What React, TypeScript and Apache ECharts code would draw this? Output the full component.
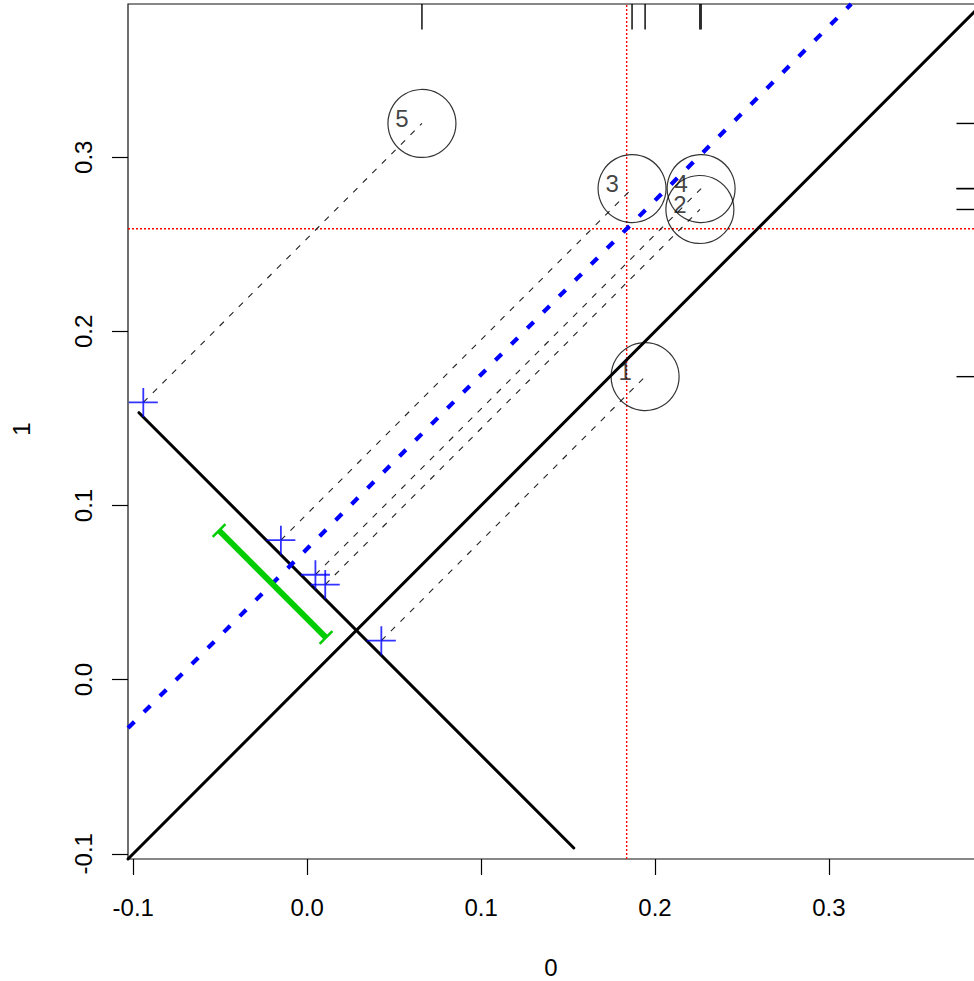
import React, { useEffect, useRef } from "react";
import * as echarts from "echarts";

// ---- axis range and ticks ----
const AXIS_MIN = -0.103;
const AXIS_MAX = 0.388;
const TICKS = [-0.1, 0.0, 0.1, 0.2, 0.3];

// ---- data (x = "0", y = "1") ----
const pointNames = ["1", "2", "3", "4", "5"];
const xValues = [0.1943, 0.2258, 0.1868, 0.2265, 0.066];
const yValues = [0.174, 0.27, 0.282, 0.282, 0.3194];

// ---- summary statistics ----
const meanX = 0.1837;
const meanY = 0.2589;
const meanDiff = 0.0752; // mean of (y - x)

// difference axis (anti-diagonal), projected crosses and CI, as x + y levels
const diffAxisSum = 0.0566;
const diffAxisRange = [-0.25, 0.25];
const crossSum = 0.065;
const ciSum = 0.035;
const ciRange = [0.0133, 0.1363];

const FONT = "'Liberation Sans', Arial, sans-serif";

const onDiagonal = (sum: number, d: number) => [(sum - d) / 2, (sum + d) / 2];

export default function App() {
  const ref = useRef<HTMLDivElement>(null);

  useEffect(() => {
    if (!ref.current) return;
    const chart = echarts.init(ref.current, null, { renderer: "svg" });

    const diffs = xValues.map((x, i) => yValues[i] - x);
    const crosses = diffs.map((d) => onDiagonal(crossSum, d));
    const points = xValues.map((x, i) => [x, yValues[i]]);

    const seg = (name: string, data: number[][], style: any, z: number) => ({
      type: "custom",
      name,
      data,
      z,
      silent: true,
      encode: { x: [0, 2], y: [1, 3] },
      renderItem: (_p: any, api: any) => {
        const p1 = api.coord([api.value(0), api.value(1)]);
        const p2 = api.coord([api.value(2), api.value(3)]);
        return {
          type: "line",
          shape: { x1: p1[0], y1: p1[1], x2: p2[0], y2: p2[1] },
          style: { fill: null, ...style },
        };
      },
    });

    const a1 = onDiagonal(diffAxisSum, diffAxisRange[0]);
    const a2 = onDiagonal(diffAxisSum, diffAxisRange[1]);
    const c1 = onDiagonal(ciSum, ciRange[0]);
    const c2 = onDiagonal(ciSum, ciRange[1]);

    const option: any = {
      animation: false,
      grid: {
        left: 128,
        top: 4,
        width: 854,
        height: 855,
        show: true,
        borderColor: "#111",
        borderWidth: 1.2,
        backgroundColor: "transparent",
        containLabel: false,
        outerBoundsMode: "none",
      },
      xAxis: {
        type: "value",
        min: AXIS_MIN,
        max: AXIS_MAX,
        axisLine: { show: false, onZero: false },
        splitLine: { show: false },
        axisTick: {
          show: true,
          customValues: TICKS,
          length: 16,
          lineStyle: { color: "#000", width: 1.2 },
        },
        axisLabel: {
          customValues: TICKS,
          formatter: (v: number) => v.toFixed(1),
          fontSize: 24,
          color: "#000",
          margin: 36,
          fontFamily: FONT,
        },
      },
      yAxis: {
        type: "value",
        min: AXIS_MIN,
        max: AXIS_MAX,
        axisLine: { show: false, onZero: false },
        splitLine: { show: false },
        axisTick: {
          show: true,
          customValues: TICKS,
          length: 16,
          lineStyle: { color: "#000", width: 1.2 },
        },
        axisLabel: {
          customValues: TICKS,
          formatter: (v: number) => v.toFixed(1),
          fontSize: 24,
          color: "#000",
          margin: 33,
          rotate: 90,
          fontFamily: FONT,
        },
      },
      graphic: [
        {
          type: "text",
          x: 551,
          y: 967,
          style: {
            text: "0",
            fontSize: 24,
            fontFamily: FONT,
            fill: "#000",
            align: "center",
            verticalAlign: "middle",
          },
        },
        {
          type: "text",
          x: 21,
          y: 429,
          rotation: Math.PI / 2,
          style: {
            text: "1",
            fontSize: 24,
            fontFamily: FONT,
            fill: "#000",
            align: "center",
            verticalAlign: "middle",
          },
        },
      ],
      series: [
        // red dotted mean lines
        seg(
          "meanLines",
          [
            [meanX, AXIS_MIN, meanX, AXIS_MAX],
            [AXIS_MIN, meanY, AXIS_MAX, meanY],
          ],
          { stroke: "#FF0000", lineWidth: 1.4, lineDash: [2, 2] },
          1
        ),
        // identity line
        seg(
          "identity",
          [[AXIS_MIN, AXIS_MIN, AXIS_MAX, AXIS_MAX]],
          { stroke: "#000", lineWidth: 3, lineCap: "round" },
          2
        ),
        // difference axis (anti-diagonal)
        seg(
          "diffAxis",
          [[a1[0], a1[1], a2[0], a2[1]]],
          { stroke: "#000", lineWidth: 3, lineCap: "round" },
          2
        ),
        // mean difference line
        seg(
          "meanDiff",
          [[AXIS_MIN, AXIS_MIN + meanDiff, AXIS_MAX - meanDiff, AXIS_MAX]],
          { stroke: "#0000FF", lineWidth: 4.2, lineDash: [9, 13.6] },
          3
        ),
        // projection lines from crosses to points
        seg(
          "projections",
          crosses.map((c, i) => [c[0], c[1], points[i][0], points[i][1]]),
          { stroke: "#222", lineWidth: 1.1, lineDash: [6, 7.5] },
          2
        ),
        // confidence interval
        {
          type: "custom",
          name: "ci",
          z: 4,
          silent: true,
          data: [[c1[0], c1[1], c2[0], c2[1]]],
          encode: { x: [0, 2], y: [1, 3] },
          renderItem: (_p: any, api: any) => {
            const p1 = api.coord([api.value(0), api.value(1)]);
            const p2 = api.coord([api.value(2), api.value(3)]);
            const dx = p2[0] - p1[0];
            const dy = p2[1] - p1[1];
            const len = Math.sqrt(dx * dx + dy * dy) || 1;
            const nx = (-dy / len) * 9;
            const ny = (dx / len) * 9;
            const stroke = "#00CD00";
            return {
              type: "group",
              children: [
                {
                  type: "line",
                  shape: { x1: p1[0], y1: p1[1], x2: p2[0], y2: p2[1] },
                  style: { stroke, lineWidth: 6, fill: null },
                },
                {
                  type: "line",
                  shape: { x1: p1[0] - nx, y1: p1[1] - ny, x2: p1[0] + nx, y2: p1[1] + ny },
                  style: { stroke, lineWidth: 2.5, fill: null },
                },
                {
                  type: "line",
                  shape: { x1: p2[0] - nx, y1: p2[1] - ny, x2: p2[0] + nx, y2: p2[1] + ny },
                  style: { stroke, lineWidth: 2.5, fill: null },
                },
              ],
            };
          },
        },
        // rug on top (x values)
        {
          type: "custom",
          name: "rugX",
          z: 3,
          silent: true,
          data: xValues.map((x) => [x, AXIS_MAX]),
          renderItem: (_p: any, api: any) => {
            const p = api.coord([api.value(0), api.value(1)]);
            return {
              type: "line",
              shape: { x1: p[0], y1: p[1], x2: p[0], y2: p[1] + 25.5 },
              style: { stroke: "#000", lineWidth: 1.4, fill: null },
            };
          },
        },
        // rug on right (y values)
        {
          type: "custom",
          name: "rugY",
          z: 3,
          silent: true,
          data: yValues.map((y) => [AXIS_MAX, y]),
          renderItem: (_p: any, api: any) => {
            const p = api.coord([api.value(0), api.value(1)]);
            return {
              type: "line",
              shape: { x1: p[0], y1: p[1], x2: p[0] - 25.5, y2: p[1] },
              style: { stroke: "#000", lineWidth: 1.4, fill: null },
            };
          },
        },
        // data points as open circles with labels
        {
          type: "scatter",
          name: "points",
          z: 5,
          silent: true,
          data: points,
          symbol: "circle",
          symbolSize: 68,
          itemStyle: { color: "rgba(0,0,0,0)", borderColor: "#000", borderWidth: 1.2 },
          label: {
            show: true,
            position: "inside",
            offset: [-20, -5],
            formatter: (p: any) => pointNames[p.dataIndex],
            fontSize: 24,
            fontFamily: FONT,
            color: "#111",
          },
        },
        // projected differences as blue crosses
        {
          type: "scatter",
          name: "crosses",
          z: 6,
          silent: true,
          data: crosses,
          symbol: "path://M0 14H28M14 0V28",
          symbolSize: 29,
          itemStyle: { color: "none", borderColor: "#0000FF", borderWidth: 1.8 },
        },
      ],
    };

    chart.setOption(option);
    return () => chart.dispose();
  }, []);

  return (
    <div
      ref={ref}
      style={{ position: "fixed", left: 0, top: 0, width: 974, height: 981, background: "#fff" }}
    />
  );
}
